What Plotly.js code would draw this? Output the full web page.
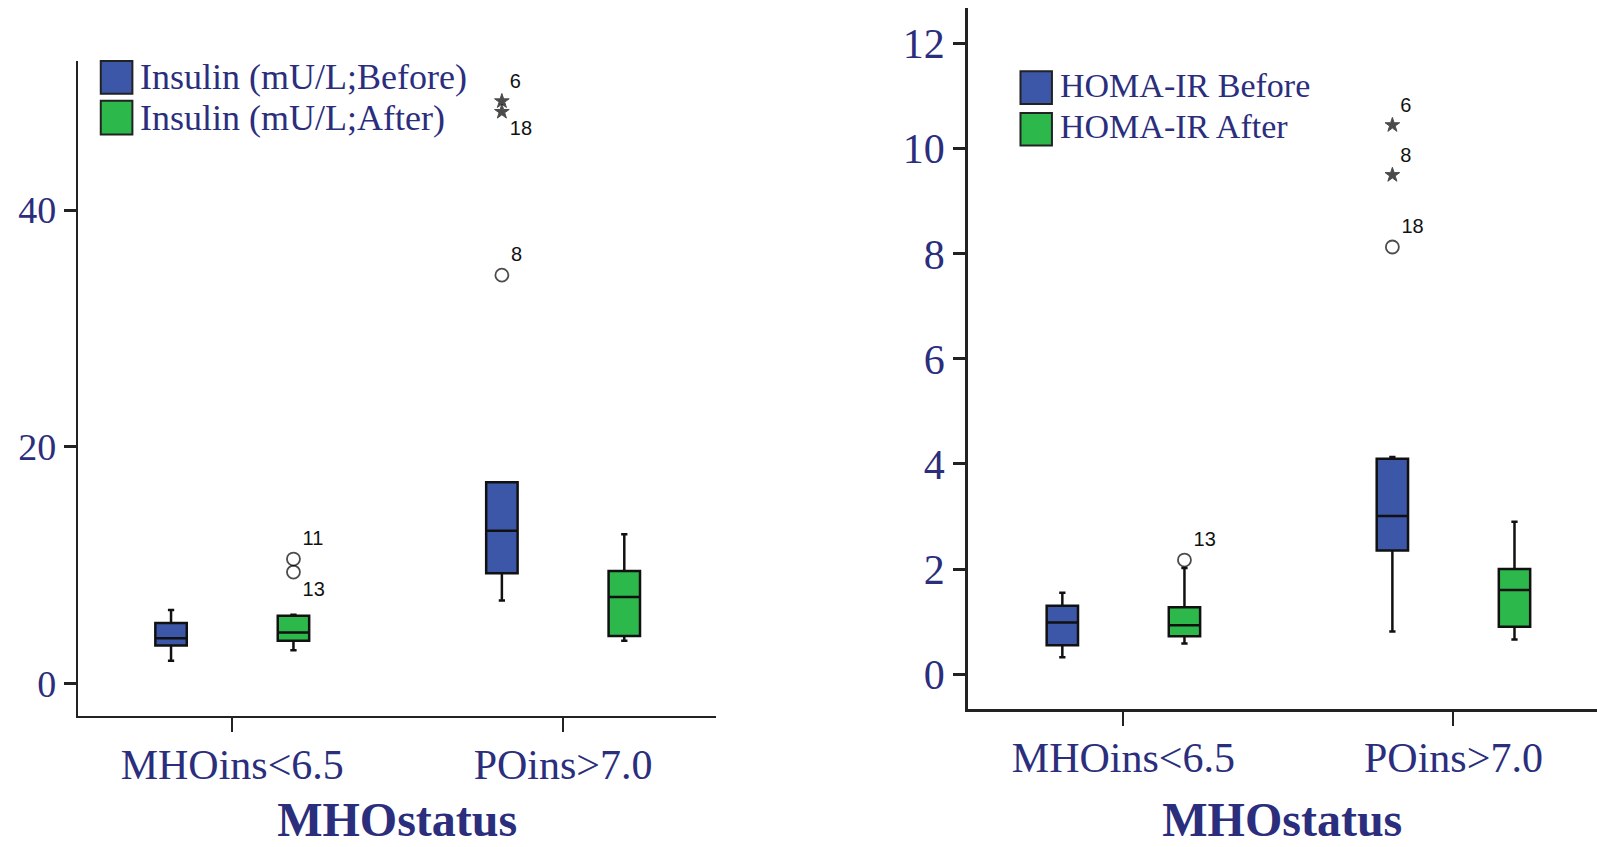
<!DOCTYPE html>
<html>
<head>
<meta charset="utf-8">
<script src="https://cdn.plot.ly/plotly-3.0.1.min.js"></script>
<style>html,body{margin:0;padding:0;background:#fff;}#chart{width:1597px;height:847px;}</style>
</head>
<body>
<div id="chart"></div>
<script>
// ---------- data ----------
const categories = ['MHOins<6.5', 'POins>7.0'];
const catIndex = [0, 1];

// Insulin (mU/L)
const insNames = ['Insulin (mU/L;Before)', 'Insulin (mU/L;After)'];
const insBeforeQ1 = [3.2, 9.3];
const insBeforeMedian = [3.8, 12.9];
const insBeforeQ3 = [5.1, 17.0];
const insBeforeLow = [1.9, 7.0];
const insBeforeHigh = [6.2, 17.0];
const insAfterQ1 = [3.6, 4.0];
const insAfterMedian = [4.3, 7.3];
const insAfterQ3 = [5.7, 9.5];
const insAfterLow = [2.8, 3.6];
const insAfterHigh = [5.8, 12.6];
const insBeforeOutCat = [1, 1, 1];
const insBeforeOutVal = [49.2, 48.3, 34.5];
const insBeforeOutId = ['6', '18', '8'];
const insBeforeOutExtreme = [true, true, false];
const insAfterOutCat = [0, 0];
const insAfterOutVal = [10.5, 9.4];
const insAfterOutId = ['11', '13'];
const insAfterOutExtreme = [false, false];

// HOMA-IR
const homaNames = ['HOMA-IR Before', 'HOMA-IR After'];
const homaBeforeQ1 = [0.55, 2.35];
const homaBeforeMedian = [0.98, 3.01];
const homaBeforeQ3 = [1.30, 4.10];
const homaBeforeLow = [0.32, 0.81];
const homaBeforeHigh = [1.55, 4.13];
const homaAfterQ1 = [0.72, 0.90];
const homaAfterMedian = [0.93, 1.60];
const homaAfterQ3 = [1.27, 2.00];
const homaAfterLow = [0.58, 0.66];
const homaAfterHigh = [2.02, 2.90];
const homaBeforeOutCat = [1, 1, 1];
const homaBeforeOutVal = [10.45, 9.5, 8.13];
const homaBeforeOutId = ['6', '8', '18'];
const homaBeforeOutExtreme = [true, true, false];
const homaAfterOutCat = [0];
const homaAfterOutVal = [2.17];
const homaAfterOutId = ['13'];
const homaAfterOutExtreme = [false];

// ---------- style ----------
const BLUE = '#3c56a8';
const GREEN = '#2db84b';
const NAVY = '#2b2e7c';
const SERIF = 'Liberation Serif, Times New Roman, serif';
const SANS = 'Liberation Sans, Arial, sans-serif';
const OFF = 0.185;
const BOXW = 0.095;

function boxTrace(name, xa, ya, offset, q1, med, q3, lo, hi, color) {
  return {
    type: 'box', name: name, xaxis: xa, yaxis: ya,
    x: catIndex.map(i => i + offset),
    q1: q1, median: med, q3: q3, lowerfence: lo, upperfence: hi,
    fillcolor: color, line: {color: '#111', width: 2.5},
    width: BOXW, whiskerwidth: 0.2, boxpoints: false,
    hoverinfo: 'skip', showlegend: false
  };
}
function outTrace(xa, ya, offset, cats, vals, ids, extreme, positions) {
  return {
    type: 'scatter', mode: 'markers+text', xaxis: xa, yaxis: ya,
    x: cats.map(i => i + offset), y: vals, text: ids,
    textposition: positions,
    textfont: {family: SANS, size: 20, color: '#111'},
    marker: {
      symbol: extreme.map(e => e ? 'star' : 'circle-open'),
      size: extreme.map(e => e ? 11 : 13),
      color: '#000', line: {color: '#000', width: extreme.map(e => e ? 1 : 1.8)}
    },
    hoverinfo: 'skip', showlegend: false, cliponaxis: false
  };
}

const data = [
  boxTrace(insNames[0], 'x', 'y', -OFF, insBeforeQ1, insBeforeMedian, insBeforeQ3, insBeforeLow, insBeforeHigh, BLUE),
  boxTrace(insNames[1], 'x', 'y', OFF, insAfterQ1, insAfterMedian, insAfterQ3, insAfterLow, insAfterHigh, GREEN),
  outTrace('x', 'y', -OFF, insBeforeOutCat, insBeforeOutVal, insBeforeOutId, insBeforeOutExtreme, ['top right', 'bottom right', 'top right']),
  outTrace('x', 'y', OFF, insAfterOutCat, insAfterOutVal, insAfterOutId, insAfterOutExtreme, ['top right', 'bottom right']),
  boxTrace(homaNames[0], 'x2', 'y2', -OFF, homaBeforeQ1, homaBeforeMedian, homaBeforeQ3, homaBeforeLow, homaBeforeHigh, BLUE),
  boxTrace(homaNames[1], 'x2', 'y2', OFF, homaAfterQ1, homaAfterMedian, homaAfterQ3, homaAfterLow, homaAfterHigh, GREEN),
  outTrace('x2', 'y2', -OFF, homaBeforeOutCat, homaBeforeOutVal, homaBeforeOutId, homaBeforeOutExtreme, ['top right', 'top right', 'top right']),
  outTrace('x2', 'y2', OFF, homaAfterOutCat, homaAfterOutVal, homaAfterOutId, homaAfterOutExtreme, ['top right'])
];

function xAxis(domain, range, anchor, standoff) {
  return {
    domain: domain, range: range, anchor: anchor,
    tickvals: catIndex, ticktext: categories,
    tickfont: {family: SERIF, size: 42, color: NAVY},
    ticks: 'outside', ticklen: 14, tickwidth: 2, tickcolor: '#222',
    ticklabelstandoff: -4,
    showline: true, linecolor: '#222', linewidth: 2.5,
    showgrid: false, zeroline: false, fixedrange: true,
    title: {text: 'MHOstatus', font: {family: SERIF, size: 48, color: NAVY, weight: 'bold'}, standoff: standoff}
  };
}
function yAxis(domain, range, anchor, tickvals, fsize) {
  return {
    domain: domain, range: range, anchor: anchor, tickvals: tickvals,
    tickfont: {family: SERIF, size: fsize, color: NAVY},
    ticks: 'outside', ticklen: 12, tickwidth: 3, tickcolor: '#222',
    showline: true, linecolor: '#222', linewidth: 2.5,
    showgrid: false, zeroline: false, fixedrange: true
  };
}

const shapes = [];
const annotations = [];
function addLegend(names, x0, x1, boxes, textX, textY, fsize) {
  const colors = [BLUE, GREEN];
  names.forEach((n, i) => {
    shapes.push({type: 'rect', xref: 'paper', yref: 'paper', x0: x0, x1: x1, y0: boxes[i][0], y1: boxes[i][1],
      fillcolor: colors[i], line: {color: '#222', width: 2}});
    annotations.push({xref: 'paper', yref: 'paper', x: textX, y: textY[i], xanchor: 'left', yanchor: 'middle',
      text: n, showarrow: false, font: {family: SERIF, size: fsize, color: NAVY}});
  });
}
addLegend(insNames, 0.0631, 0.0829, [[0.8894, 0.928], [0.8413, 0.881]], 0.0865, [0.9086, 0.8605], 36);
addLegend(homaNames, 0.639, 0.6587, [[0.8772, 0.9158], [0.8281, 0.8666]], 0.6625, [0.899, 0.8509], 34);

const layout = {
  width: 1597, height: 847,
  margin: {l: 0, r: 0, t: 0, b: 0},
  paper_bgcolor: '#fff', plot_bgcolor: '#fff',
  showlegend: false,
  xaxis: xAxis([0.0491, 0.4483], [-0.465, 1.462], 'y', 16),
  yaxis: yAxis([0.1547, 0.928], [-2.76, 52.6], 'x', [0, 20, 40], 38),
  xaxis2: xAxis([0.6059, 1.0], [-0.472, 1.435], 'y2', 22),
  yaxis2: yAxis([0.1626, 0.990], [-0.67, 12.67], 'x2', [0, 2, 4, 6, 8, 10, 12], 42),
  shapes: shapes,
  annotations: annotations
};

Plotly.newPlot('chart', data, layout, {displayModeBar: false, staticPlot: true});
</script>
</body>
</html>
